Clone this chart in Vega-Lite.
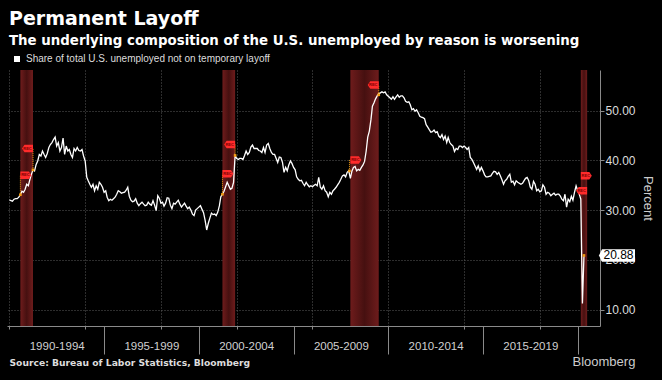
{
  "$schema": "https://vega.github.io/schema/vega-lite/v6.json",
  "width": 593,
  "height": 256,
  "autosize": "none",
  "padding": {"left": 7, "top": 70, "right": 62, "bottom": 54},
  "background": "#000000",
  "title": {
    "text": "Permanent Layoff",
    "subtitle": "The underlying composition of the U.S. unemployed by reason is worsening",
    "anchor": "start",
    "frame": "group",
    "font": "DejaVu Sans",
    "fontSize": 19,
    "fontWeight": "bold",
    "color": "#ffffff",
    "subtitleFont": "DejaVu Sans",
    "subtitleFontSize": 13.35,
    "subtitleFontWeight": "bold",
    "subtitleColor": "#ffffff",
    "subtitlePadding": 5,
    "offset": 6.5,
    "dx": 2
  },
  "datasets": {
    "series": [
      {"d":"1990-01-01","v":32.1},{"d":"1990-02-01","v":31.9},{"d":"1990-03-01","v":31.8},{"d":"1990-04-01","v":32.2},{"d":"1990-05-01","v":32.3},{"d":"1990-06-01","v":32.3},{"d":"1990-07-01","v":32.6},{"d":"1990-08-01","v":33.1},{"d":"1990-09-01","v":33.8},{"d":"1990-10-01","v":33.6},{"d":"1990-11-01","v":34.2},{"d":"1990-12-01","v":35.2},
      {"d":"1991-01-01","v":34.9},{"d":"1991-02-01","v":36.2},{"d":"1991-03-01","v":37.2},{"d":"1991-04-01","v":38.1},{"d":"1991-05-01","v":37.9},{"d":"1991-06-01","v":39.2},{"d":"1991-07-01","v":39.9},{"d":"1991-08-01","v":41.2},{"d":"1991-09-01","v":40.9},{"d":"1991-10-01","v":41.9},{"d":"1991-11-01","v":41.2},{"d":"1991-12-01","v":40.6},
      {"d":"1992-01-01","v":41.4},{"d":"1992-02-01","v":42.6},{"d":"1992-03-01","v":43.2},{"d":"1992-04-01","v":43.6},{"d":"1992-05-01","v":44.2},{"d":"1992-06-01","v":44.7},{"d":"1992-07-01","v":42.9},{"d":"1992-08-01","v":43.6},{"d":"1992-09-01","v":41.9},{"d":"1992-10-01","v":42.6},{"d":"1992-11-01","v":44.5},{"d":"1992-12-01","v":41.2},
      {"d":"1993-01-01","v":42.9},{"d":"1993-02-01","v":41.9},{"d":"1993-03-01","v":42.2},{"d":"1993-04-01","v":41.2},{"d":"1993-05-01","v":40.6},{"d":"1993-06-01","v":42.4},{"d":"1993-07-01","v":41.9},{"d":"1993-08-01","v":42.6},{"d":"1993-09-01","v":42.0},{"d":"1993-10-01","v":41.9},{"d":"1993-11-01","v":42.2},{"d":"1993-12-01","v":40.9},
      {"d":"1994-01-01","v":39.9},{"d":"1994-02-01","v":36.6},{"d":"1994-03-01","v":35.9},{"d":"1994-04-01","v":35.2},{"d":"1994-05-01","v":34.6},{"d":"1994-06-01","v":35.2},{"d":"1994-07-01","v":33.9},{"d":"1994-08-01","v":34.9},{"d":"1994-09-01","v":34.2},{"d":"1994-10-01","v":35.6},{"d":"1994-11-01","v":35.2},{"d":"1994-12-01","v":34.6},
      {"d":"1995-01-01","v":33.6},{"d":"1995-02-01","v":33.9},{"d":"1995-03-01","v":32.6},{"d":"1995-04-01","v":31.9},{"d":"1995-05-01","v":32.2},{"d":"1995-06-01","v":32.0},{"d":"1995-07-01","v":32.3},{"d":"1995-08-01","v":32.6},{"d":"1995-09-01","v":33.2},{"d":"1995-10-01","v":33.9},{"d":"1995-11-01","v":33.7},{"d":"1995-12-01","v":33.4},
      {"d":"1996-01-01","v":33.5},{"d":"1996-02-01","v":33.6},{"d":"1996-03-01","v":34.0},{"d":"1996-04-01","v":34.6},{"d":"1996-05-01","v":32.8},{"d":"1996-06-01","v":32.0},{"d":"1996-07-01","v":31.7},{"d":"1996-08-01","v":31.8},{"d":"1996-09-01","v":32.3},{"d":"1996-10-01","v":31.4},{"d":"1996-11-01","v":30.9},{"d":"1996-12-01","v":31.3},
      {"d":"1997-01-01","v":31.6},{"d":"1997-02-01","v":31.2},{"d":"1997-03-01","v":30.9},{"d":"1997-04-01","v":31.0},{"d":"1997-05-01","v":31.6},{"d":"1997-06-01","v":31.2},{"d":"1997-07-01","v":31.0},{"d":"1997-08-01","v":31.9},{"d":"1997-09-01","v":31.0},{"d":"1997-10-01","v":29.9},{"d":"1997-11-01","v":32.9},{"d":"1997-12-01","v":32.4},
      {"d":"1998-01-01","v":31.4},{"d":"1998-02-01","v":31.6},{"d":"1998-03-01","v":30.8},{"d":"1998-04-01","v":31.4},{"d":"1998-05-01","v":32.5},{"d":"1998-06-01","v":32.4},{"d":"1998-07-01","v":31.0},{"d":"1998-08-01","v":30.3},{"d":"1998-09-01","v":31.4},{"d":"1998-10-01","v":31.2},{"d":"1998-11-01","v":31.6},{"d":"1998-12-01","v":32.0},
      {"d":"1999-01-01","v":31.2},{"d":"1999-02-01","v":30.6},{"d":"1999-03-01","v":31.0},{"d":"1999-04-01","v":31.4},{"d":"1999-05-01","v":30.8},{"d":"1999-06-01","v":30.3},{"d":"1999-07-01","v":30.6},{"d":"1999-08-01","v":30.0},{"d":"1999-09-01","v":29.2},{"d":"1999-10-01","v":28.9},{"d":"1999-11-01","v":30.0},{"d":"1999-12-01","v":30.3},
      {"d":"2000-01-01","v":30.6},{"d":"2000-02-01","v":30.9},{"d":"2000-03-01","v":30.2},{"d":"2000-04-01","v":29.5},{"d":"2000-05-01","v":28.0},{"d":"2000-06-01","v":26.0},{"d":"2000-07-01","v":27.3},{"d":"2000-08-01","v":28.4},{"d":"2000-09-01","v":29.4},{"d":"2000-10-01","v":29.1},{"d":"2000-11-01","v":29.2},{"d":"2000-12-01","v":28.9},
      {"d":"2001-01-01","v":29.6},{"d":"2001-02-01","v":30.9},{"d":"2001-03-01","v":32.7},{"d":"2001-04-01","v":33.2},{"d":"2001-05-01","v":33.8},{"d":"2001-06-01","v":34.7},{"d":"2001-07-01","v":35.6},{"d":"2001-08-01","v":34.9},{"d":"2001-09-01","v":34.2},{"d":"2001-10-01","v":34.4},{"d":"2001-11-01","v":35.6},{"d":"2001-12-01","v":41.0},
      {"d":"2002-01-01","v":40.4},{"d":"2002-02-01","v":40.2},{"d":"2002-03-01","v":40.4},{"d":"2002-04-01","v":40.4},{"d":"2002-05-01","v":40.2},{"d":"2002-06-01","v":41.0},{"d":"2002-07-01","v":41.9},{"d":"2002-08-01","v":41.2},{"d":"2002-09-01","v":41.6},{"d":"2002-10-01","v":42.7},{"d":"2002-11-01","v":43.1},{"d":"2002-12-01","v":42.4},
      {"d":"2003-01-01","v":42.4},{"d":"2003-02-01","v":42.4},{"d":"2003-03-01","v":42.0},{"d":"2003-04-01","v":41.9},{"d":"2003-05-01","v":41.6},{"d":"2003-06-01","v":42.6},{"d":"2003-07-01","v":41.6},{"d":"2003-08-01","v":43.1},{"d":"2003-09-01","v":43.4},{"d":"2003-10-01","v":42.4},{"d":"2003-11-01","v":41.6},{"d":"2003-12-01","v":41.2},
      {"d":"2004-01-01","v":41.2},{"d":"2004-02-01","v":40.4},{"d":"2004-03-01","v":39.6},{"d":"2004-04-01","v":40.7},{"d":"2004-05-01","v":40.6},{"d":"2004-06-01","v":39.6},{"d":"2004-07-01","v":37.6},{"d":"2004-08-01","v":38.6},{"d":"2004-09-01","v":37.9},{"d":"2004-10-01","v":39.1},{"d":"2004-11-01","v":39.9},{"d":"2004-12-01","v":39.4},
      {"d":"2005-01-01","v":38.6},{"d":"2005-02-01","v":38.1},{"d":"2005-03-01","v":36.7},{"d":"2005-04-01","v":36.2},{"d":"2005-05-01","v":35.9},{"d":"2005-06-01","v":36.0},{"d":"2005-07-01","v":35.4},{"d":"2005-08-01","v":34.9},{"d":"2005-09-01","v":35.6},{"d":"2005-10-01","v":35.1},{"d":"2005-11-01","v":34.7},{"d":"2005-12-01","v":34.9},
      {"d":"2006-01-01","v":34.7},{"d":"2006-02-01","v":35.0},{"d":"2006-03-01","v":35.2},{"d":"2006-04-01","v":34.9},{"d":"2006-05-01","v":36.6},{"d":"2006-06-01","v":34.6},{"d":"2006-07-01","v":34.2},{"d":"2006-08-01","v":34.9},{"d":"2006-09-01","v":33.9},{"d":"2006-10-01","v":33.6},{"d":"2006-11-01","v":32.7},{"d":"2006-12-01","v":33.6},
      {"d":"2007-01-01","v":33.2},{"d":"2007-02-01","v":33.9},{"d":"2007-03-01","v":34.2},{"d":"2007-04-01","v":34.6},{"d":"2007-05-01","v":35.1},{"d":"2007-06-01","v":35.6},{"d":"2007-07-01","v":36.2},{"d":"2007-08-01","v":36.9},{"d":"2007-09-01","v":37.1},{"d":"2007-10-01","v":36.7},{"d":"2007-11-01","v":37.6},{"d":"2007-12-01","v":37.9},
      {"d":"2008-01-01","v":36.4},{"d":"2008-02-01","v":37.9},{"d":"2008-03-01","v":38.6},{"d":"2008-04-01","v":38.8},{"d":"2008-05-01","v":37.9},{"d":"2008-06-01","v":38.2},{"d":"2008-07-01","v":38.0},{"d":"2008-08-01","v":38.6},{"d":"2008-09-01","v":39.1},{"d":"2008-10-01","v":39.8},{"d":"2008-11-01","v":41.9},{"d":"2008-12-01","v":44.7},
      {"d":"2009-01-01","v":45.9},{"d":"2009-02-01","v":48.2},{"d":"2009-03-01","v":50.9},{"d":"2009-04-01","v":51.6},{"d":"2009-05-01","v":52.4},{"d":"2009-06-01","v":53.0},{"d":"2009-07-01","v":53.4},{"d":"2009-08-01","v":53.6},{"d":"2009-09-01","v":53.8},{"d":"2009-10-01","v":53.6},{"d":"2009-11-01","v":53.8},{"d":"2009-12-01","v":53.2},
      {"d":"2010-01-01","v":52.9},{"d":"2010-02-01","v":52.6},{"d":"2010-03-01","v":52.3},{"d":"2010-04-01","v":52.8},{"d":"2010-05-01","v":52.3},{"d":"2010-06-01","v":52.8},{"d":"2010-07-01","v":53.2},{"d":"2010-08-01","v":52.7},{"d":"2010-09-01","v":53.0},{"d":"2010-10-01","v":53.0},{"d":"2010-11-01","v":52.6},{"d":"2010-12-01","v":51.9},
      {"d":"2011-01-01","v":51.7},{"d":"2011-02-01","v":51.8},{"d":"2011-03-01","v":51.2},{"d":"2011-04-01","v":50.2},{"d":"2011-05-01","v":50.4},{"d":"2011-06-01","v":49.9},{"d":"2011-07-01","v":50.2},{"d":"2011-08-01","v":49.6},{"d":"2011-09-01","v":48.9},{"d":"2011-10-01","v":48.7},{"d":"2011-11-01","v":48.6},{"d":"2011-12-01","v":48.4},
      {"d":"2012-01-01","v":47.2},{"d":"2012-02-01","v":46.7},{"d":"2012-03-01","v":46.2},{"d":"2012-04-01","v":45.7},{"d":"2012-05-01","v":45.8},{"d":"2012-06-01","v":46.1},{"d":"2012-07-01","v":45.6},{"d":"2012-08-01","v":45.8},{"d":"2012-09-01","v":44.9},{"d":"2012-10-01","v":44.6},{"d":"2012-11-01","v":45.2},{"d":"2012-12-01","v":44.2},
      {"d":"2013-01-01","v":44.9},{"d":"2013-02-01","v":43.6},{"d":"2013-03-01","v":44.6},{"d":"2013-04-01","v":43.6},{"d":"2013-05-01","v":43.2},{"d":"2013-06-01","v":42.9},{"d":"2013-07-01","v":41.8},{"d":"2013-08-01","v":42.4},{"d":"2013-09-01","v":42.2},{"d":"2013-10-01","v":42.9},{"d":"2013-11-01","v":42.9},{"d":"2013-12-01","v":42.6},
      {"d":"2014-01-01","v":42.9},{"d":"2014-02-01","v":42.6},{"d":"2014-03-01","v":42.2},{"d":"2014-04-01","v":42.6},{"d":"2014-05-01","v":40.6},{"d":"2014-06-01","v":40.2},{"d":"2014-07-01","v":39.6},{"d":"2014-08-01","v":38.9},{"d":"2014-09-01","v":38.2},{"d":"2014-10-01","v":38.9},{"d":"2014-11-01","v":37.9},{"d":"2014-12-01","v":38.6},
      {"d":"2015-01-01","v":37.9},{"d":"2015-02-01","v":37.1},{"d":"2015-03-01","v":36.7},{"d":"2015-04-01","v":36.7},{"d":"2015-05-01","v":36.8},{"d":"2015-06-01","v":36.9},{"d":"2015-07-01","v":37.4},{"d":"2015-08-01","v":37.8},{"d":"2015-09-01","v":37.7},{"d":"2015-10-01","v":37.2},{"d":"2015-11-01","v":37.6},{"d":"2015-12-01","v":36.9},
      {"d":"2016-01-01","v":36.1},{"d":"2016-02-01","v":35.2},{"d":"2016-03-01","v":35.9},{"d":"2016-04-01","v":36.2},{"d":"2016-05-01","v":36.8},{"d":"2016-06-01","v":37.2},{"d":"2016-07-01","v":35.6},{"d":"2016-08-01","v":35.8},{"d":"2016-09-01","v":35.1},{"d":"2016-10-01","v":35.9},{"d":"2016-11-01","v":35.6},{"d":"2016-12-01","v":35.4},
      {"d":"2017-01-01","v":35.2},{"d":"2017-02-01","v":35.4},{"d":"2017-03-01","v":35.9},{"d":"2017-04-01","v":36.4},{"d":"2017-05-01","v":36.6},{"d":"2017-06-01","v":35.9},{"d":"2017-07-01","v":34.6},{"d":"2017-08-01","v":34.2},{"d":"2017-09-01","v":35.8},{"d":"2017-10-01","v":35.2},{"d":"2017-11-01","v":33.9},{"d":"2017-12-01","v":34.2},
      {"d":"2018-01-01","v":33.7},{"d":"2018-02-01","v":33.9},{"d":"2018-03-01","v":35.1},{"d":"2018-04-01","v":34.6},{"d":"2018-05-01","v":33.2},{"d":"2018-06-01","v":33.6},{"d":"2018-07-01","v":33.4},{"d":"2018-08-01","v":32.9},{"d":"2018-09-01","v":33.2},{"d":"2018-10-01","v":33.4},{"d":"2018-11-01","v":33.0},{"d":"2018-12-01","v":33.2},
      {"d":"2019-01-01","v":33.2},{"d":"2019-02-01","v":32.8},{"d":"2019-03-01","v":32.2},{"d":"2019-04-01","v":31.9},{"d":"2019-05-01","v":33.2},{"d":"2019-06-01","v":30.6},{"d":"2019-07-01","v":32.2},{"d":"2019-08-01","v":31.7},{"d":"2019-09-01","v":32.8},{"d":"2019-10-01","v":32.0},{"d":"2019-11-01","v":33.6},{"d":"2019-12-01","v":34.9},
      {"d":"2020-01-01","v":33.9},{"d":"2020-02-01","v":33.2},{"d":"2020-03-01","v":32.2},{"d":"2020-04-01","v":11.2},{"d":"2020-05-01","v":20.88}
    ],
    "recessions": [
      {"start":"1990-08-01","end":"1991-04-01"},
      {"start":"2001-04-01","end":"2001-12-01"},
      {"start":"2008-01-01","end":"2009-07-01"},
      {"start":"2020-03-01","end":"2020-07-01"}
    ],
    "flags": [
      {"d":"1990-08-01","v":37.0,"kind":"start"},
      {"d":"1991-04-01","v":42.4,"kind":"end"},
      {"d":"2001-04-01","v":37.3,"kind":"start"},
      {"d":"2001-12-01","v":43.2,"kind":"end"},
      {"d":"2008-01-01","v":40.1,"kind":"start"},
      {"d":"2009-07-01","v":55.2,"kind":"end"},
      {"d":"2020-03-01","v":36.9,"kind":"start"},
      {"d":"2020-07-01","v":33.9,"kind":"end"}
    ],
    "turns": [
      {"d":"1990-08-01","v":33.1,"flag":37.0},
      {"d":"1991-04-01","v":38.1,"flag":42.4},
      {"d":"2001-04-01","v":33.2,"flag":37.3},
      {"d":"2001-12-01","v":41.0,"flag":43.2},
      {"d":"2007-12-15","v":37.9,"flag":40.1},
      {"d":"2009-07-01","v":53.2,"flag":55.2}
    ],
    "last": [{"d":"2020-05-01","v":20.88}],
    "periods": [
      {"d":"1995-01-01"},{"d":"2000-01-01"},{"d":"2005-01-01"},{"d":"2010-01-01"},{"d":"2015-01-01"},{"d":"2020-01-01"}
    ]
  },
  "layer": [
    {
      "layer": [
        {
          "data": {"name": "recessions"},
          "mark": {
            "type": "rect",
            "fill": {"gradient": "linear", "x1": 0, "x2": 1, "y1": 0, "y2": 0,
              "stops": [{"offset": 0, "color": "#6e1c1c"}, {"offset": 0.5, "color": "#461010"}, {"offset": 1, "color": "#6e1c1c"}]}
          },
          "encoding": {
            "x": {"field": "start", "type": "temporal",
              "scale": {"type": "utc", "domain": [{"year": 1989, "month": 11, "date": 16, "utc": true}, {"year": 2021, "month": 3, "date": 6, "utc": true}], "nice": false}},
            "x2": {"field": "end"}
          }
        },
        {
          "data": {"name": "series"},
          "mark": {"type": "line", "strokeWidth": 1.3, "interpolate": "linear"},
          "encoding": {
            "x": {"field": "d", "type": "temporal",
              "scale": {"type": "utc", "domain": [{"year": 1989, "month": 11, "date": 16, "utc": true}, {"year": 2021, "month": 3, "date": 6, "utc": true}], "nice": false},
              "axis": {
                "orient": "bottom",
                "values": [{"year":1990,"utc":true},{"year":1991,"utc":true},{"year":1992,"utc":true},{"year":1993,"utc":true},{"year":1994,"utc":true},{"year":1995,"utc":true},{"year":1996,"utc":true},{"year":1997,"utc":true},{"year":1998,"utc":true},{"year":1999,"utc":true},{"year":2000,"utc":true},{"year":2001,"utc":true},{"year":2002,"utc":true},{"year":2003,"utc":true},{"year":2004,"utc":true},{"year":2005,"utc":true},{"year":2006,"utc":true},{"year":2007,"utc":true},{"year":2008,"utc":true},{"year":2009,"utc":true},{"year":2010,"utc":true},{"year":2011,"utc":true},{"year":2012,"utc":true},{"year":2013,"utc":true},{"year":2014,"utc":true},{"year":2015,"utc":true},{"year":2016,"utc":true},{"year":2017,"utc":true},{"year":2018,"utc":true},{"year":2019,"utc":true},{"year":2020,"utc":true}],
                "labels": false,
                "grid": true,
                "gridColor": "#5a5a5a",
                "gridDash": [1, 2],
                "gridOpacity": {"condition": {"test": "utcyear(datum.value) % 2 == 1", "value": 0}, "value": 1},
                "tickSize": 3,
                "tickColor": "#8a8a8a",
                "domainColor": "#8a8a8a",
                "title": "Bloomberg",
                "titleX": 565,
                "titleY": 35,
                "titleAlign": "left",
                "titleAnchor": "start",
                "titleBaseline": "middle",
                "titleFontSize": 13,
                "titleFontWeight": "normal",
                "titleColor": "#cccccc"
              }},
            "y": {"field": "v", "type": "quantitative",
              "scale": {"domain": [6.68, 58.2], "nice": false, "zero": false},
              "axis": {
                "orient": "right",
                "values": [10, 15, 20, 25, 30, 35, 40, 45, 50, 55],
                "labelExpr": "datum.value % 10 == 0 ? format(datum.value, '.2f') : ''",
                "labelColor": "#dddddd",
                "labelFontSize": 12,
                "labelPadding": 1,
                "labelOverlap": false,
                "grid": true,
                "gridColor": "#5a5a5a",
                "gridDash": [1, 2],
                "gridOpacity": {"condition": {"test": "datum.value % 10 != 0", "value": 0}, "value": 1},
                "tickSize": 4,
                "tickColor": "#8a8a8a",
                "domainColor": "#8a8a8a",
                "title": "Percent",
                "titleColor": "#cccccc",
                "titleFontSize": 13,
                "titleFontWeight": "normal",
                "titlePadding": 5
              }},
            "color": {"datum": "Share of total U.S. unemployed not on temporary layoff",
              "scale": {"range": ["#ffffff"]},
              "legend": {"orient": "none", "legendX": 5, "legendY": -16, "title": null, "padding": 0,
                "symbolType": "square", "symbolSize": 36, "symbolFillColor": "#ffffff", "symbolStrokeColor": "#ffffff", "symbolStrokeWidth": 0,
                "labelColor": "#dddddd", "labelFont": "Liberation Sans", "labelFontSize": 10, "labelOffset": 4, "labelLimit": 0}}
          }
        },
        {
          "data": {"name": "turns"},
          "mark": {"type": "rule", "color": "#f39c12", "strokeDash": [1, 1], "strokeWidth": 1},
          "encoding": {
            "x": {"field": "d", "type": "temporal"},
            "y": {"field": "v", "type": "quantitative"},
            "y2": {"field": "flag"}
          }
        },
        {
          "data": {"name": "turns"},
          "mark": {"type": "point", "shape": "square", "filled": true, "size": 7, "color": "#f39c12", "opacity": 1},
          "encoding": {
            "x": {"field": "d", "type": "temporal"},
            "y": {"field": "v", "type": "quantitative"}
          }
        },
        {
          "data": {"name": "last"},
          "mark": {"type": "point", "shape": "square", "filled": true, "size": 7, "color": "#f39c12", "opacity": 1},
          "encoding": {
            "x": {"field": "d", "type": "temporal"},
            "y": {"field": "v", "type": "quantitative"}
          }
        },
        {
          "data": {"name": "flags"},
          "transform": [{"filter": "datum.kind == 'start'"}],
          "mark": {"type": "point", "shape": "M0,-0.75L1.7,-0.75L2.2,0L1.7,0.75L0,0.75Z", "size": 100, "filled": true, "color": "#ff2b2b", "opacity": 1, "strokeWidth": 0},
          "encoding": {
            "x": {"field": "d", "type": "temporal"},
            "y": {"field": "v", "type": "quantitative"}
          }
        },
        {
          "data": {"name": "flags"},
          "transform": [{"filter": "datum.kind == 'end'"}],
          "mark": {"type": "point", "shape": "M0,-0.75L-1.7,-0.75L-2.2,0L-1.7,0.75L0,0.75Z", "size": 100, "filled": true, "color": "#ff2b2b", "opacity": 1, "strokeWidth": 0},
          "encoding": {
            "x": {"field": "d", "type": "temporal"},
            "y": {"field": "v", "type": "quantitative"}
          }
        },
        {
          "data": {"name": "flags"},
          "transform": [{"filter": "datum.kind == 'start'"}],
          "mark": {"type": "text", "text": "REC", "fontSize": 4, "fontWeight": "bold", "color": "#7a0000", "dx": 5, "baseline": "middle", "align": "center", "font": "Liberation Sans"},
          "encoding": {
            "x": {"field": "d", "type": "temporal"},
            "y": {"field": "v", "type": "quantitative"}
          }
        },
        {
          "data": {"name": "flags"},
          "transform": [{"filter": "datum.kind == 'end'"}],
          "mark": {"type": "text", "text": "REC", "fontSize": 4, "fontWeight": "bold", "color": "#7a0000", "dx": -5.5, "baseline": "middle", "align": "center", "font": "Liberation Sans"},
          "encoding": {
            "x": {"field": "d", "type": "temporal"},
            "y": {"field": "v", "type": "quantitative"}
          }
        },
        {
          "data": {"name": "last"},
          "mark": {"type": "point", "shape": "M1.5,0L1.8,-0.62L5.1,-0.62L5.1,0.62L1.8,0.62Z", "size": 400, "filled": true, "color": "#ffffff", "opacity": 1, "strokeWidth": 0},
          "encoding": {
            "x": {"field": "d", "type": "temporal"},
            "y": {"field": "v", "type": "quantitative"}
          }
        },
        {
          "data": {"name": "last"},
          "mark": {"type": "text", "fontSize": 12, "color": "#000000", "dx": 34.5, "align": "center", "baseline": "middle", "font": "Liberation Sans"},
          "encoding": {
            "x": {"field": "d", "type": "temporal"},
            "y": {"field": "v", "type": "quantitative"},
            "text": {"field": "v", "type": "quantitative", "format": ".2f"}
          }
        }
      ]
    },
    {
      "data": {"name": "periods"},
      "mark": {"type": "tick", "opacity": 0},
      "encoding": {
        "x": {"field": "d", "type": "temporal",
          "axis": {
            "orient": "bottom",
            "values": [{"year":1995,"utc":true},{"year":2000,"utc":true},{"year":2005,"utc":true},{"year":2010,"utc":true},{"year":2015,"utc":true},{"year":2020,"utc":true}],
            "labelExpr": "(utcyear(datum.value) - 5) + '-' + (utcyear(datum.value) - 1)",
            "labelOffset": -47.4,
            "labelPadding": -8,
            "labelBaseline": "middle",
            "labelFlush": false,
            "labelOverlap": false,
            "labelBound": false,
            "labelColor": "#d0d0d0",
            "labelFontSize": 11.5,
            "domain": false,
            "grid": false,
            "ticks": true,
            "tickSize": 28,
            "tickColor": "#8a8a8a",
            "title": "Source: Bureau of Labor Statistics, Bloomberg",
            "titleX": 2, "titleY": 36, "titleAnchor": "start", "titleAlign": "left", "titleBaseline": "middle",
            "titleFont": "DejaVu Sans", "titleFontSize": 9.2, "titleFontWeight": "bold", "titleColor": "#dddddd"}}
      }
    }
  ],
  "resolve": {"axis": {"x": "independent"}},
  "config": {
    "view": {"stroke": null},
    "axis": {"labelFont": "Liberation Sans", "titleFont": "Liberation Sans"}
  }
}
